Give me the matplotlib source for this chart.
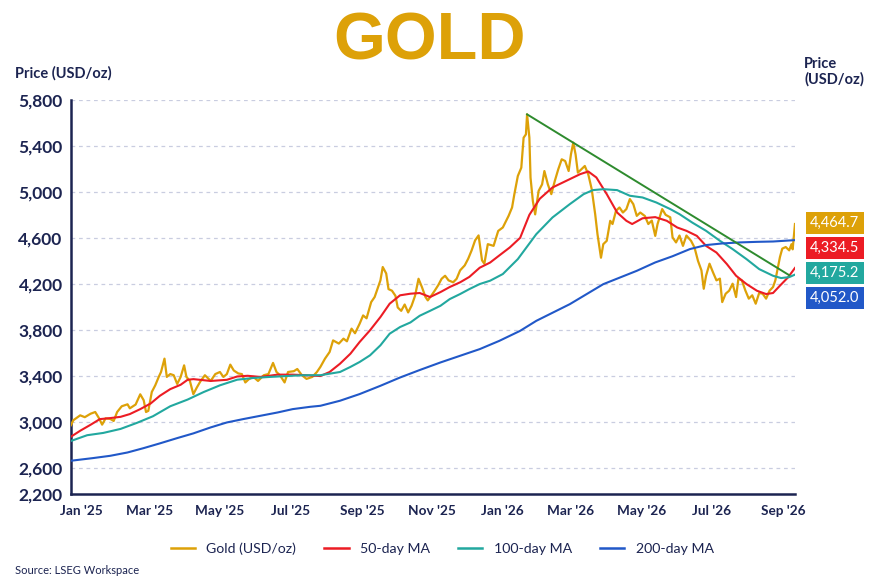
import numpy as np
import matplotlib.pyplot as plt
from matplotlib.lines import Line2D
import datetime as dt

# days are counted from 1 Jan 2025
gold_day = [-9, -7, -1, 3, 8, 12, 15, 18, 21, 25, 28, 31, 35, 40, 42, 47, 51, 54, 56, 58,
            61, 64, 67, 69, 72, 74, 77, 80, 83, 86, 89, 91, 94, 97, 100, 103, 107, 112, 116, 120,
            123, 126, 129, 132, 136, 139, 142, 145, 149, 153, 158, 162, 166, 169, 172, 176, 179, 184, 187, 191,
            195, 200, 204, 207, 211, 215, 218, 223, 227, 230, 234, 237, 241, 244, 247, 251, 254, 259, 261, 264,
            266, 269, 272, 274, 277, 280, 283, 286, 289, 292, 295, 298, 300, 303, 306, 309, 312, 315, 318, 322,
            325, 328, 332, 335, 338, 341, 344, 347, 349, 352, 357, 361, 365, 370, 373, 375, 378, 381, 383, 385,
            386, 388, 389, 391, 393, 396, 399, 401, 404, 407, 410, 413, 416, 419, 422, 424, 426, 428, 430, 433,
            436, 439, 442, 445, 447, 450, 452, 455, 458, 460, 463, 466, 469, 472, 475, 478, 481, 484, 488, 491,
            494, 497, 499, 503, 506, 510, 512, 515, 518, 521, 524, 528, 531, 534, 537, 539, 541, 544, 547, 550,
            553, 555, 558, 561, 564, 567, 569, 572, 575, 578, 581, 584, 587, 590, 593, 596, 599, 601, 603, 605,
            607, 610, 613, 615, 616, 618]
gold_price = [2970, 3013, 3056, 3040, 3070, 3085, 3036, 2975, 3030, 3025, 3007, 3085, 3135, 3152, 3117, 3150, 3239, 3187, 3085, 3095,
              3259, 3317, 3390, 3433, 3549, 3390, 3415, 3405, 3329, 3390, 3491, 3390, 3355, 3240, 3298, 3350, 3405, 3355, 3415, 3433,
              3390, 3415, 3497, 3446, 3420, 3415, 3342, 3370, 3390, 3355, 3405, 3415, 3512, 3433, 3405, 3342, 3433, 3440, 3459, 3405,
              3373, 3390, 3433, 3477, 3549, 3607, 3708, 3680, 3723, 3700, 3810, 3770, 3853, 3925, 3900, 4041, 4085, 4230, 4346, 4290,
              4154, 4140, 4096, 3994, 3965, 4020, 3951, 4010, 4096, 4244, 4170, 4085, 4056, 4096, 4140, 4187, 4244, 4270, 4230, 4213,
              4244, 4317, 4360, 4418, 4491, 4578, 4621, 4404, 4375, 4545, 4530, 4660, 4690, 4791, 4864, 4980, 5138, 5210, 5471, 5500,
              5674, 5471, 5123, 4920, 4804, 5008, 5065, 5181, 5065, 4980, 5094, 5196, 5283, 5268, 5181, 5326, 5428, 5326, 5167, 5196,
              5225, 5152, 5022, 4804, 4630, 4427, 4545, 4574, 4748, 4720, 4835, 4864, 4820, 4850, 4937, 4893, 4791, 4820, 4790, 4720,
              4750, 4617, 4720, 4850, 4800, 4778, 4603, 4560, 4620, 4530, 4620, 4574, 4516, 4400, 4317, 4157, 4270, 4375, 4300, 4230,
              4245, 4041, 4114, 4140, 4201, 4085, 4244, 4230, 4143, 4071, 4100, 4027, 4120, 4114, 4071, 4140, 4172, 4230, 4331, 4433,
              4506, 4520, 4491, 4545, 4500, 4720]

ma50_day = [-9, -1, 8, 16, 25, 34, 42, 51, 60, 68, 77, 86, 92, 97, 112, 126, 135, 144, 155, 170,
            183, 194, 207, 215, 224, 233, 241, 250, 259, 267, 276, 285, 293, 302, 311, 319, 328, 336, 345, 354,
            362, 371, 380, 388, 397, 408, 420, 432, 439, 446, 455, 464, 472, 477, 486, 497, 507, 516, 524, 533,
            541, 550, 559, 567, 576, 585, 593, 599, 605, 612, 618]
ma50 = [2870, 2922, 2974, 3023, 3032, 3043, 3067, 3110, 3159, 3226, 3284, 3322, 3365, 3371, 3355, 3365, 3394, 3400, 3390, 3410,
        3410, 3405, 3398, 3433, 3505, 3592, 3694, 3796, 3911, 4027, 4100, 4114, 4120, 4085, 4128, 4172, 4213, 4260, 4340, 4385,
        4447, 4516, 4600, 4800, 4940, 5038, 5096, 5154, 5177, 5125, 4980, 4820, 4748, 4720, 4770, 4780, 4748, 4690, 4661, 4617,
        4530, 4472, 4372, 4270, 4198, 4140, 4111, 4120, 4184, 4256, 4338]

ma100_day = [-9, 5, 19, 34, 48, 62, 77, 92, 106, 120, 135, 149, 163, 178, 192, 207, 224, 233, 241, 250,
             259, 267, 276, 285, 293, 302, 311, 319, 328, 336, 345, 354, 365, 378, 394, 408, 423, 435, 443, 452,
             464, 475, 486, 498, 510, 518, 529, 541, 553, 564, 576, 587, 599, 606, 613, 618]
ma100 = [2833, 2883, 2903, 2938, 2990, 3048, 3135, 3193, 3259, 3317, 3366, 3381, 3390, 3398, 3405, 3405, 3433, 3477, 3520, 3578,
         3665, 3766, 3824, 3864, 3922, 3965, 4009, 4067, 4111, 4154, 4198, 4227, 4285, 4415, 4632, 4777, 4893, 4980, 5015, 5023,
         5015, 4966, 4951, 4907, 4850, 4806, 4733, 4661, 4574, 4502, 4415, 4328, 4270, 4250, 4258, 4280]

ma200_day = [-9, 10, 25, 40, 54, 68, 83, 97, 112, 126, 140, 155, 170, 183, 198, 207, 224, 241, 259, 276,
             293, 311, 328, 345, 362, 380, 394, 423, 452, 481, 497, 512, 527, 541, 555, 570, 585, 599, 618]
ma200 = [2661, 2684, 2704, 2733, 2771, 2812, 2858, 2899, 2951, 2994, 3023, 3052, 3081, 3110, 3130, 3139, 3183, 3241, 3313, 3385,
         3450, 3516, 3574, 3632, 3704, 3791, 3878, 4023, 4197, 4313, 4386, 4440, 4502, 4537, 4551, 4560, 4565, 4568, 4580]

trend_day = [386, 613]
trend_price = [5674, 4275]

y_ticks = [2200, 2600, 3000, 3400, 3800, 4200, 4600, 5000, 5400, 5800]
month_labels = ["Jan '25", "Mar '25", "May '25", "Jul '25", "Sep '25", "Nov '25",
                "Jan '26", "Mar '26", "May '26", "Jul '26", "Sep '26"]
month_dates = [dt.date(2025, 1, 1), dt.date(2025, 3, 1), dt.date(2025, 5, 1), dt.date(2025, 7, 1),
               dt.date(2025, 9, 1), dt.date(2025, 11, 1), dt.date(2026, 1, 1), dt.date(2026, 3, 1),
               dt.date(2026, 5, 1), dt.date(2026, 7, 1), dt.date(2026, 9, 1)]
last_labels = ['4,464.7', '4,334.5', '4,175.2', '4,052.0']

GOLD = '#DDA108'
RED = '#EC1C24'
TEAL = '#22A89F'
BLUE = '#2158C8'
GREEN = '#2E8B2E'
NAVY = '#1C2451'

plt.rcParams['font.family'] = ['Lato', 'DejaVu Sans']


# squeeze the bottom band (2,200 - 2,600) of the price axis
def fwd(v):
    v = np.asarray(v, dtype=float)
    return np.where(v >= 2600, v, 2600 + (v - 2600) * 0.572)


def inv(v):
    v = np.asarray(v, dtype=float)
    return np.where(v >= 2600, v, 2600 + (v - 2600) / 0.572)


fig = plt.figure(figsize=(8.76, 5.84), dpi=100)
ax = fig.add_axes([0.081, 0.154, 0.8265, 0.675])
ax.set_yscale('function', functions=(fwd, inv))

ax.plot(gold_day, gold_price, color=GOLD, lw=1.6, zorder=3)
ax.plot(ma50_day, ma50, color=RED, lw=1.5, zorder=4)
ax.plot(ma100_day, ma100, color=TEAL, lw=1.5, zorder=4)
ax.plot(ma200_day, ma200, color=BLUE, lw=1.5, zorder=4)
ax.plot(trend_day, trend_price, color=GREEN, lw=1.4, zorder=5)

ax.set_ylim(2200, 5800)
ax.set_xlim(-9, 618)
ax.set_yticks(y_ticks)
ax.set_yticklabels([f'{t:,}' for t in y_ticks], fontsize=12.5, fontweight='bold', color=NAVY)
x0 = dt.date(2025, 1, 1)
ax.set_xticks([(d - x0).days for d in month_dates])
ax.set_xticklabels(month_labels, fontsize=9.8, fontweight='bold', color=NAVY)
ax.tick_params(axis='both', length=0, pad=6)
ax.tick_params(axis='x', pad=8)

for t in y_ticks[1:]:
    ax.axhline(t, color='#C9CDE0', lw=0.9, ls=(0, (3, 3)), zorder=1)

for s in ['top', 'right']:
    ax.spines[s].set_visible(False)
for s in ['left', 'bottom']:
    ax.spines[s].set_color(NAVY)
    ax.spines[s].set_linewidth(1.8)

fig.text(0.49, 0.928, 'GOLD', ha='center', va='center', fontsize=48, fontweight='bold',
         color=GOLD, family=['Liberation Sans', 'DejaVu Sans'])
fig.text(0.017, 0.875, 'Price (USD/oz)', ha='left', va='center', fontsize=10.5,
         fontweight='bold', color=NAVY)
fig.text(0.918, 0.877, 'Price\n(USD/oz)', ha='left', va='center', fontsize=10.5,
         fontweight='bold', color=NAVY, linespacing=1.15)
fig.text(0.017, 0.023, 'Source: LSEG Workspace', ha='left', va='center', fontsize=8, color=NAVY)

# latest-value boxes on the right
box_colors = [GOLD, RED, TEAL, BLUE]
box_y = [223, 248, 273, 298]
for lab, c, yy in zip(last_labels, box_colors, box_y):
    fig.text(0.953, 1 - yy / 584, lab, ha='center', va='center', fontsize=10.5, color='white',
             bbox=dict(boxstyle='square,pad=0.28', fc=c, ec='none'))

handles = [Line2D([], [], color=GOLD, lw=1.8), Line2D([], [], color=RED, lw=1.8),
           Line2D([], [], color=TEAL, lw=1.8), Line2D([], [], color=BLUE, lw=1.8)]
leg = fig.legend(handles, ['Gold (USD/oz)', '50-day MA', '100-day MA', '200-day MA'],
                 loc='center', bbox_to_anchor=(0.505, 0.06), ncol=4, frameon=False,
                 fontsize=10.2, handlelength=1.7, columnspacing=2.0)
for t in leg.get_texts():
    t.set_color(NAVY)

fig.savefig('out.png', dpi=100, facecolor='white')
